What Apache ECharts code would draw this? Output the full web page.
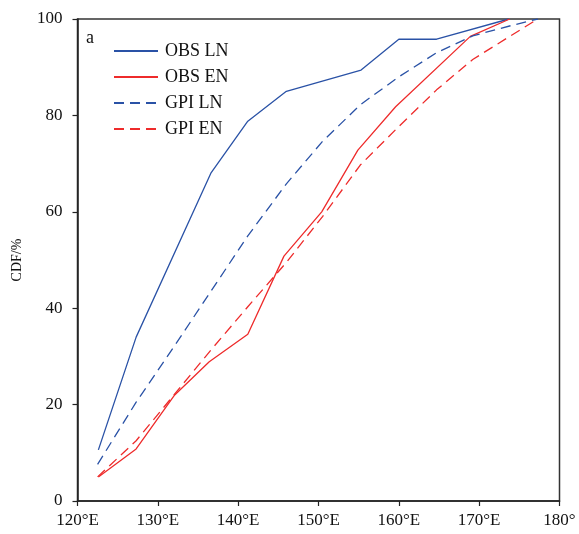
<!DOCTYPE html>
<html>
<head>
<meta charset="utf-8">
<script src="https://cdn.jsdelivr.net/npm/echarts@6/dist/echarts.min.js"></script>
<style>
  html, body { margin: 0; padding: 0; background: #fff; }
  #cdf { width: 579px; height: 534px; }
</style>
</head>
<body>
<div id="cdf"></div>
<script>
// data (longitude °E, CDF %)
var obsLnLon = [122.6, 127.3, 136.6, 141.2, 146.0, 155.3, 160.0, 164.7, 173.7];
var obsLnCdf = [10.6, 34, 68, 78.8, 85, 89.4, 95.8, 95.8, 100];

var obsEnLon = [122.6, 127.3, 132.1, 136.4, 141.2, 145.7, 150.4, 154.9, 159.6, 168.9, 173.8];
var obsEnCdf = [5, 10.8, 22, 28.9, 34.6, 50.8, 60, 72.8, 81.8, 96.4, 100];

var gpiLon = [122.5, 127.3, 132.0, 136.6, 141.2, 146.0, 150.5, 155.2, 160.0, 164.7, 169.2, 173.9, 177.3];
var gpiLnCdf = [7.6, 20.5, 32, 43.5, 55, 65.8, 74.6, 82.2, 88, 93, 96.5, 98.6, 100];
var gpiEnCdf = [5, 12.5, 22, 31.3, 40.3, 49.5, 59, 69.7, 77.7, 85.3, 91.6, 96.5, 100];

var xTickLabels = ['120°E', '130°E', '140°E', '150°E', '160°E', '170°E', '180°'];

var blue = '#2a52a6';
var red = '#ee2b2b';
var font = 'Liberation Serif';

function pairs(xs, ys) {
    return xs.map(function (x, i) { return [x, ys[i]]; });
}

var myChart = echarts.init(document.getElementById('cdf'));

var option = {
    animation: false,
    textStyle: { fontFamily: font },
    grid: {
        left: 77.5, right: 19.5, top: 19, bottom: 33,
        show: true,
        borderColor: '#333',
        borderWidth: 1.5
    },
    legend: {
        orient: 'vertical',
        left: 108,
        top: 37,
        itemWidth: 44,
        itemHeight: 14,
        itemGap: 8,
        itemStyle: { opacity: 0 },
        textStyle: { fontFamily: font, fontSize: 18, color: '#111', padding: [0, 0, 0, 2] },
        data: ['OBS LN', 'OBS EN', 'GPI LN', 'GPI EN']
    },
    graphic: [{
        type: 'text',
        left: 86,
        top: 29,
        style: { text: 'a', font: '18px "Liberation Serif"', fill: '#111' }
    }],
    xAxis: {
        type: 'value',
        min: 120,
        max: 180,
        interval: 10,
        splitLine: { show: false },
        axisLine: { lineStyle: { color: '#222', width: 1.5 } },
        axisTick: { length: 5, lineStyle: { color: '#222', width: 1.2 } },
        axisLabel: {
            color: '#111',
            fontFamily: font,
            fontSize: 17,
            margin: 11,
            formatter: function (v) { return xTickLabels[Math.round((v - 120) / 10)]; }
        }
    },
    yAxis: {
        type: 'value',
        min: 0,
        max: 100,
        interval: 20,
        name: 'CDF/%',
        nameLocation: 'middle',
        nameGap: 53,
        nameTextStyle: { fontFamily: font, fontSize: 14, color: '#111' },
        splitLine: { show: false },
        axisLine: { show: true, lineStyle: { color: '#222', width: 1.5 } },
        axisTick: { show: true, length: 5, lineStyle: { color: '#222', width: 1.2 } },
        axisLabel: { color: '#111', fontFamily: font, fontSize: 17, margin: 15 }
    },
    series: [
        {
            name: 'OBS LN', type: 'line', symbol: 'none',
            data: pairs(obsLnLon, obsLnCdf),
            itemStyle: { color: blue },
            lineStyle: { color: blue, width: 1.3 }
        },
        {
            name: 'OBS EN', type: 'line', symbol: 'none',
            data: pairs(obsEnLon, obsEnCdf),
            itemStyle: { color: red },
            lineStyle: { color: red, width: 1.3 }
        },
        {
            name: 'GPI LN', type: 'line', symbol: 'none',
            data: pairs(gpiLon, gpiLnCdf),
            itemStyle: { color: blue },
            lineStyle: { color: blue, width: 1.3, type: [10, 6] }
        },
        {
            name: 'GPI EN', type: 'line', symbol: 'none',
            data: pairs(gpiLon, gpiEnCdf),
            itemStyle: { color: red },
            lineStyle: { color: red, width: 1.3, type: [10, 6] }
        }
    ]
};

myChart.setOption(option);
</script>
</body>
</html>
